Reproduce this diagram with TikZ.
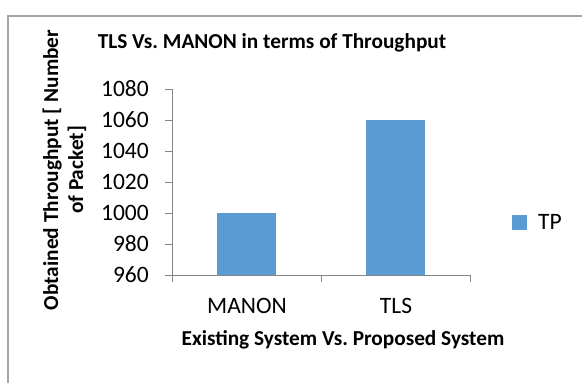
\documentclass[tikz,border=0pt]{standalone}
\usepackage{fontspec}
\setmainfont{Carlito}
\frenchspacing
\definecolor{barblue}{RGB}{91,155,213}
\definecolor{axisgray}{RGB}{134,134,134}
\definecolor{framegray}{RGB}{165,165,165}
\begin{document}
\begin{tikzpicture}[x=1pt,y=-1pt,
  axisline/.style={draw=axisgray,line width=1pt},
  bar/.style={fill=barblue,draw=none},
  ticklabel/.style={anchor=east,inner sep=0pt,font=\fontsize{23.5}{26}\selectfont},
  catlabel/.style={inner sep=0pt,font=\fontsize{23.5}{26}\selectfont},
  boldlabel/.style={inner sep=0pt,font=\fontsize{21.3}{25}\selectfont\bfseries}]
\useasboundingbox (0,0) rectangle (582,383);
% frame
\draw[framegray,line width=1.5pt] (8,383) -- (8,16) -- (582,16);
% title
\node[boldlabel] (title) at (272,43) {TLS Vs. MANON in terms of Throughput};
% axes
\coordinate (o) at (172,275);
\coordinate (ytop) at (172,89);
\coordinate (xend) at (470,275);
\draw[axisline] (ytop) -- (o) -- (xend);
\foreach \v/\y in {1080/89,1060/120,1040/151,1020/182,1000/213,980/244,960/275}{
  \draw[axisline] (165,\y) -- (172,\y);
  \node[ticklabel] (t\v) at (149,\y) {\v};
}
\foreach \x in {172,321,470}{
  \draw[axisline] (\x,275) -- (\x,282);
}
% bars
\path[bar] (217,213) rectangle (276,275);
\path[bar] (366,120) rectangle (425,275);
% category labels
\node[catlabel] (cM) at (247,306) {MANON};
\node[catlabel] (cT) at (396,306) {TLS};
% axis titles
\node[boldlabel] (xlab) at (343,340) {Existing System Vs. Proposed System};
\node[boldlabel,rotate=90,align=center] (ylab) at (64.5,170) {Obtained Throughput [ Number\\of Packet]};
% legend
\path[bar] (512,215) rectangle (527,230);
\node[catlabel,anchor=west] (leg) at (538,222) {TP};
\end{tikzpicture}
\end{document}
